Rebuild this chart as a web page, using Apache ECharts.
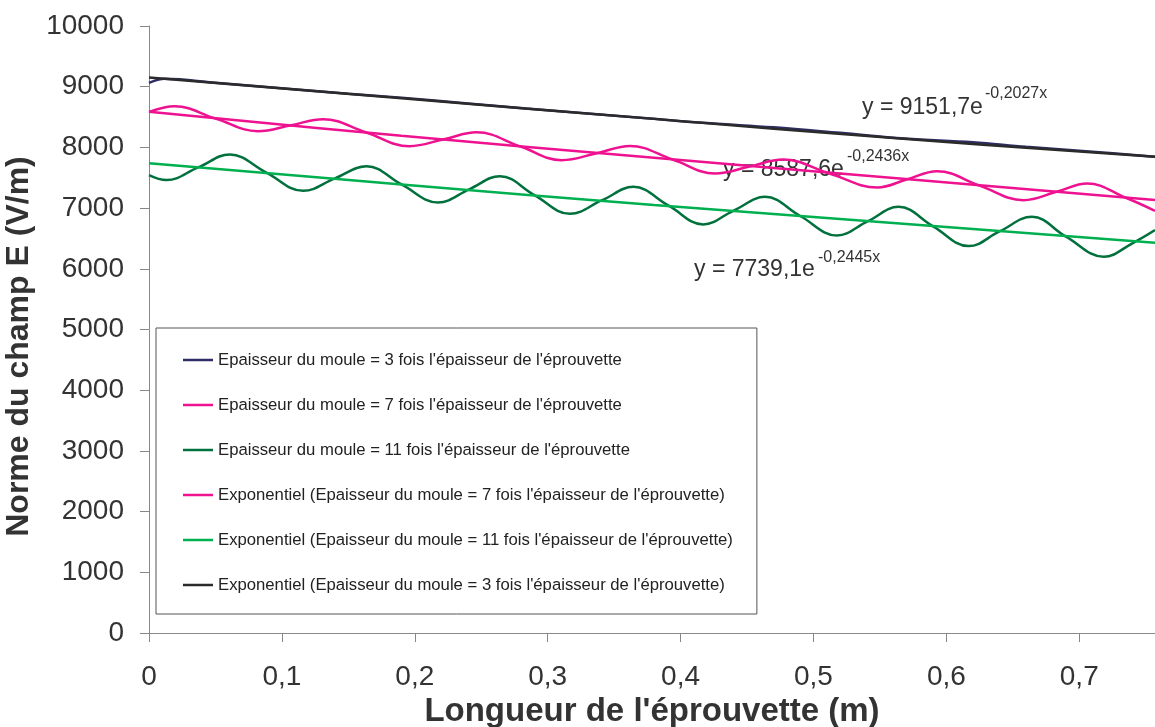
<!DOCTYPE html>
<html>
<head>
<meta charset="UTF-8">
<title>Norme du champ E</title>
<script src="https://cdn.jsdelivr.net/npm/echarts@6/dist/echarts.min.js"></script>
<style>
  html, body { margin: 0; padding: 0; background: #fff; }
  #main { width: 1155px; height: 727px; }
</style>
</head>
<body>
<div id="main"></div>
<script>
// series names (legend order)
var names = [
  "Epaisseur du moule = 3 fois l'épaisseur de l'éprouvette",
  "Epaisseur du moule = 7 fois l'épaisseur de l'éprouvette",
  "Epaisseur du moule = 11 fois l'épaisseur de l'éprouvette",
  "Exponentiel (Epaisseur du moule = 7 fois l'épaisseur de l'éprouvette)",
  "Exponentiel (Epaisseur du moule = 11 fois l'épaisseur de l'éprouvette)",
  "Exponentiel (Epaisseur du moule = 3 fois l'épaisseur de l'éprouvette)"
];

// épaisseur 3
var x3 = [0, 0.012, 0.05, 0.1, 0.15, 0.19, 0.24, 0.284, 0.33, 0.377, 0.42, 0.47, 0.52, 0.569, 0.62, 0.66, 0.71, 0.757];
var y3 = [9062, 9130, 9065, 8975, 8885, 8820, 8725, 8640, 8560, 8476, 8400, 8330, 8240, 8147, 8085, 8010, 7930, 7844];

// épaisseur 7
var x7 = [0, 0.0194, 0.05, 0.082, 0.107, 0.131, 0.163, 0.196, 0.222, 0.2465, 0.28, 0.3105, 0.337, 0.362, 0.394, 0.426, 0.452, 0.477, 0.512, 0.548, 0.57, 0.593, 0.625, 0.658, 0.683, 0.706, 0.735, 0.757];
var y7 = [8585, 8678, 8476, 8267, 8366, 8465, 8250, 8020, 8135, 8249, 8010, 7790, 7905, 8025, 7800, 7570, 7685, 7800, 7570, 7340, 7470, 7609, 7370, 7131, 7270, 7406, 7170, 6955];

// épaisseur 11
var x11 = [0, 0.013, 0.037, 0.0608, 0.088, 0.116, 0.14, 0.1637, 0.19, 0.2176, 0.241, 0.264, 0.29, 0.3168, 0.341, 0.3645, 0.391, 0.417, 0.44, 0.4636, 0.49, 0.5176, 0.541, 0.564, 0.59, 0.6167, 0.64, 0.6644, 0.69, 0.7184, 0.74, 0.757];
var y11 = [7543, 7461, 7670, 7884, 7590, 7285, 7490, 7691, 7390, 7093, 7310, 7526, 7215, 6906, 7130, 7350, 7040, 6731, 6960, 7186, 6870, 6550, 6785, 7021, 6700, 6374, 6615, 6857, 6530, 6198, 6420, 6637];

// trend lines
var xT = [0, 0.19, 0.38, 0.565, 0.757];
var t3 = [9152, 8808, 8470, 8145, 7844];
var t7 = [8588, 8190, 7830, 7488, 7135];
var t11 = [7739, 7390, 7050, 6748, 6430];

var xTicks = [0, 0.1, 0.2, 0.3, 0.4, 0.5, 0.6, 0.7];

// equation labels: [main text, exponent]
var equations = [
  ['y = 9151,7e', '-0,2027x'],
  ['y = 8587,6e', '-0,2436x'],
  ['y = 7739,1e', '-0,2445x']
];

function pairs(xs, ys) {
  return xs.map(function (x, i) { return [x, ys[i]]; });
}

var colors = ['#2e2e66', '#ee1290', '#00703c', '#ee1290', '#00b050', '#2b2b2b'];

var chart = echarts.init(document.getElementById('main'));

// positions of the equation texts (left, top of main text, left/top of exponent)
var eqPos = [[862, 96, 985, 86], [723, 158, 847, 149], [694, 258, 818, 250]];
var graphics = [];
equations.forEach(function (eq, i) {
  var p = eqPos[i];
  graphics.push({ type: 'text', left: p[0], top: p[1], style: { text: eq[0], font: '23px Liberation Sans', fill: '#333' } });
  graphics.push({ type: 'text', left: p[2], top: p[3], style: { text: eq[1], font: '16px Liberation Sans', fill: '#333' } });
});

var option = {
  animation: false,
  textStyle: { fontFamily: 'Liberation Sans, Arial, sans-serif' },
  grid: { left: 149, right: 0, top: 26, bottom: 94, containLabel: false, outerBoundsMode: 'none' },
  xAxis: {
    type: 'value',
    min: 0,
    max: 0.757,
    interval: 0.1,
    name: "Longueur de l'éprouvette (m)",
    nameLocation: 'middle',
    nameGap: 57,
    nameTextStyle: { fontSize: 33, fontWeight: 'bold', color: '#333' },
    axisLine: { lineStyle: { color: '#888', width: 1 } },
    axisTick: { length: 9, lineStyle: { color: '#888' } },
    splitLine: { show: false },
    axisLabel: {
      fontSize: 28,
      color: '#333',
      margin: 30,
      showMaxLabel: false,
      formatter: function (v) {
        if (xTicks.indexOf(Math.round(v * 10) / 10) < 0) return '';
        return v === 0 ? '0' : v.toFixed(1).replace('.', ',');
      }
    }
  },
  yAxis: {
    type: 'value',
    min: 0,
    max: 10000,
    interval: 1000,
    name: 'Norme du champ E (V/m)',
    nameLocation: 'middle',
    nameGap: 81,
    nameTextStyle: { fontSize: 32, fontWeight: 'bold', color: '#333', padding: [0, 34, 0, 0] },
    axisLine: { show: true, lineStyle: { color: '#888', width: 1 } },
    axisTick: { show: true, length: 9, lineStyle: { color: '#888' } },
    splitLine: { show: false },
    axisLabel: { fontSize: 28, color: '#333', margin: 25, formatter: function (v) { return String(v); } }
  },
  legend: {
    orient: 'vertical',
    left: 156,
    top: 328,
    data: names,
    icon: 'rect',
    itemWidth: 30,
    itemHeight: 2.5,
    itemGap: 25,
    padding: [22, 24, 19, 27],
    borderColor: '#555',
    borderWidth: 1,
    backgroundColor: '#fff',
    textStyle: { fontSize: 16.7, color: '#222', lineHeight: 20 }
  },
  series: [
    { name: names[0], data: pairs(x3, y3), color: colors[0] },
    { name: names[1], data: pairs(x7, y7), color: colors[1] },
    { name: names[2], data: pairs(x11, y11), color: colors[2] },
    { name: names[3], data: pairs(xT, t7), color: colors[3] },
    { name: names[4], data: pairs(xT, t11), color: colors[4] },
    { name: names[5], data: pairs(xT, t3), color: colors[5] }
  ].map(function (s) {
    s.type = 'line';
    s.symbol = 'none';
    s.smooth = 0.4;
    s.lineStyle = { width: 2.5, color: s.color };
    return s;
  }),
  graphic: graphics
};

chart.setOption(option);
</script>
</body>
</html>
